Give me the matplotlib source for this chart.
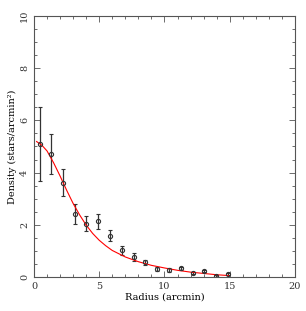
import matplotlib
matplotlib.use("Agg")
import matplotlib.pyplot as plt
from matplotlib.ticker import MultipleLocator

plt.rcParams['font.family'] = ['DejaVu Serif']
plt.rcParams['font.size'] = 7
plt.rcParams['text.color'] = '#333333'
plt.rcParams['xtick.labelcolor'] = '#333333'
plt.rcParams['ytick.labelcolor'] = '#333333'

# observed radial density profile
radius = [0.43, 1.33, 2.23, 3.12, 4.02, 4.91, 5.83, 6.75, 7.65, 8.54,
          9.44, 10.36, 11.25, 12.15, 13.04, 13.94, 14.86]
density = [5.10, 4.71, 3.62, 2.41, 2.05, 2.14, 1.59, 1.02, 0.77, 0.57,
           0.31, 0.27, 0.33, 0.15, 0.24, 0.05, 0.11]
err = [1.42, 0.78, 0.53, 0.37, 0.30, 0.28, 0.20, 0.18, 0.14, 0.10,
       0.06, 0.06, 0.06, 0.05, 0.05, 0.04, 0.04]

# fitted profile
fit_r = [0.2, 0.6, 1.0, 1.5, 2.0, 2.5, 3.0, 3.5, 4.0, 4.5, 5.0, 5.5, 6.0,
         7.0, 8.0, 9.0, 10.0, 11.0, 12.0, 13.0, 14.0, 14.9]
fit_d = [5.19, 5.05, 4.83, 4.38, 3.87, 3.33, 2.82, 2.38, 1.99, 1.67, 1.41,
         1.20, 1.02, 0.77, 0.59, 0.45, 0.35, 0.26, 0.19, 0.14, 0.09, 0.06]

fig = plt.figure(figsize=(3.06, 3.11), dpi=100)
ax = fig.add_axes([0.111, 0.109, 0.853, 0.840])

ax.errorbar(radius, density, yerr=err, fmt='o', mfc='none', mec='#333333',
            ecolor='#333333', ms=3, mew=0.8, elinewidth=0.9, capsize=1.5,
            capthick=0.8)
ax.plot(fit_r, fit_d, color='red', lw=0.8)

ax.set_xlim(0, 20)
ax.set_ylim(0, 10)
ax.xaxis.set_major_locator(MultipleLocator(5))
ax.xaxis.set_minor_locator(MultipleLocator(1))
ax.yaxis.set_major_locator(MultipleLocator(2))
ax.yaxis.set_minor_locator(MultipleLocator(0.5))
ax.tick_params(which='both', direction='in', top=True, right=True,
               color='#555555', width=0.6)
ax.tick_params(which='major', length=4)
ax.tick_params(which='minor', length=2)
for lab in ax.get_yticklabels():
    lab.set_rotation(90)
    lab.set_va('center')
for s in ax.spines.values():
    s.set_color('#555555')
    s.set_linewidth(0.8)

ax.set_xlabel('Radius (arcmin)', labelpad=1)
ax.set_ylabel('Density (stars/arcmin²)', labelpad=2)

fig.savefig('out.png', dpi=100)
